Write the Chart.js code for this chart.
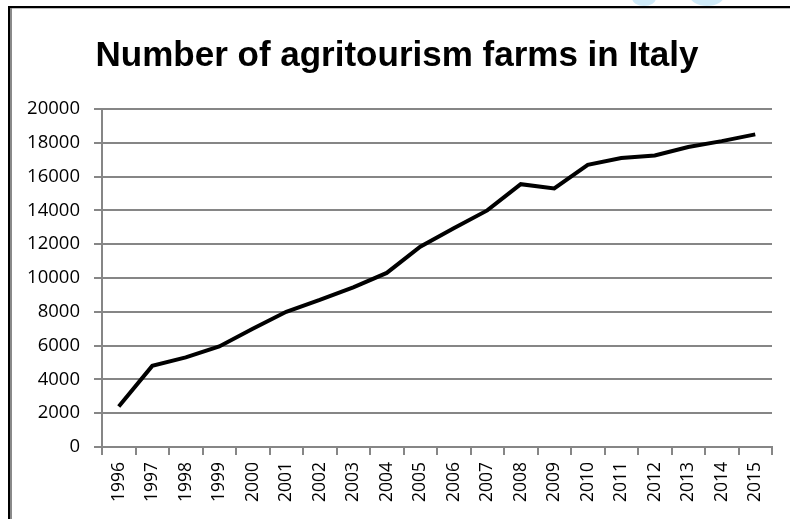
<!DOCTYPE html>
<html>
<head>
<meta charset="utf-8">
<script src="https://cdn.jsdelivr.net/npm/chart.js@4/dist/chart.umd.min.js"></script>
<style>
  body { margin: 0; background: #fff; }
  #wrap { position: relative; width: 790px; height: 519px; overflow: hidden; }
  #chart { position: absolute; left: 0; top: 0; }
  .blue { position: absolute; background: #cfeaf8; border-radius: 50%; }
  #frameTop { position: absolute; left: 8px; top: 6px; width: 782px; height: 2px; background: #000; }
  #frameTop2 { position: absolute; left: 10px; top: 8px; width: 780px; height: 1px; background: #bdbdbd; }
  #frameLeft { position: absolute; left: 8px; top: 6px; width: 2px; height: 513px; background: #000; }
  #frameLeft2 { position: absolute; left: 10px; top: 8px; width: 2px; height: 511px; background: #8a8a8a; }
</style>
</head>
<body>
<div id="wrap">
  <div class="blue" style="left:632px;top:-10px;width:24px;height:16px"></div>
  <div class="blue" style="left:690px;top:-14px;width:34px;height:20px"></div>
  <canvas id="chart" width="790" height="519"></canvas>
  <div id="frameTop"></div>
  <div id="frameTop2"></div>
  <div id="frameLeft"></div>
  <div id="frameLeft2"></div>
</div>
<script>
const years = ['1996','1997','1998','1999','2000','2001','2002','2003','2004','2005',
               '2006','2007','2008','2009','2010','2011','2012','2013','2014','2015'];
const farms = [2400, 4800, 5300, 5950, 7000, 8000, 8700, 9450, 10300, 11850,
               12950, 14000, 15550, 15300, 16700, 17100, 17250, 17750, 18100, 18500];
const yMin = 0, yMax = 20000, yStep = 2000;

const gridGray = '#868686';

const ctx = document.getElementById('chart').getContext('2d');
const chart = new Chart(ctx, {
  type: 'line',
  data: {
    labels: years,
    datasets: [{
      label: 'Number of agritourism farms',
      data: farms,
      borderColor: '#000',
      borderWidth: 4,
      pointRadius: 0,
      tension: 0,
      fill: false
    }]
  },
  options: {
    responsive: false,
    animation: false,
    layout: { padding: { left: 22, right: 18, top: 0, bottom: 0 } },
    plugins: {
      legend: { display: false },
      tooltip: { enabled: false },
      title: {
        display: true,
        text: 'Number of agritourism farms in Italy',
        color: '#000',
        font: { family: '"Liberation Sans", Arial, sans-serif', size: 35, weight: 'bold', lineHeight: 1.2 },
        padding: { top: 35, bottom: 32 }
      }
    },
    scales: {
      x: {
        offset: true,
        grid: { offset: true, drawOnChartArea: false, color: gridGray, lineWidth: 2, tickLength: 8 },
        border: { color: gridGray, width: 2 },
        ticks: { color: '#000', font: { family: '"Open Sans", sans-serif', size: 17.5 }, minRotation: 90, maxRotation: 90, padding: 7, autoSkip: false },
        afterFit: s => { s.height = 72; }
      },
      y: {
        min: yMin,
        max: yMax,
        grid: { color: gridGray, lineWidth: 2, tickLength: 8 },
        border: { color: gridGray, width: 2 },
        ticks: { stepSize: yStep, color: '#000', font: { family: '"Open Sans", sans-serif', size: 18.5 }, padding: 14, callback: v => String(v) },
        afterFit: s => { s.width = 80; }
      }
    }
  }
});
</script>
</body>
</html>
